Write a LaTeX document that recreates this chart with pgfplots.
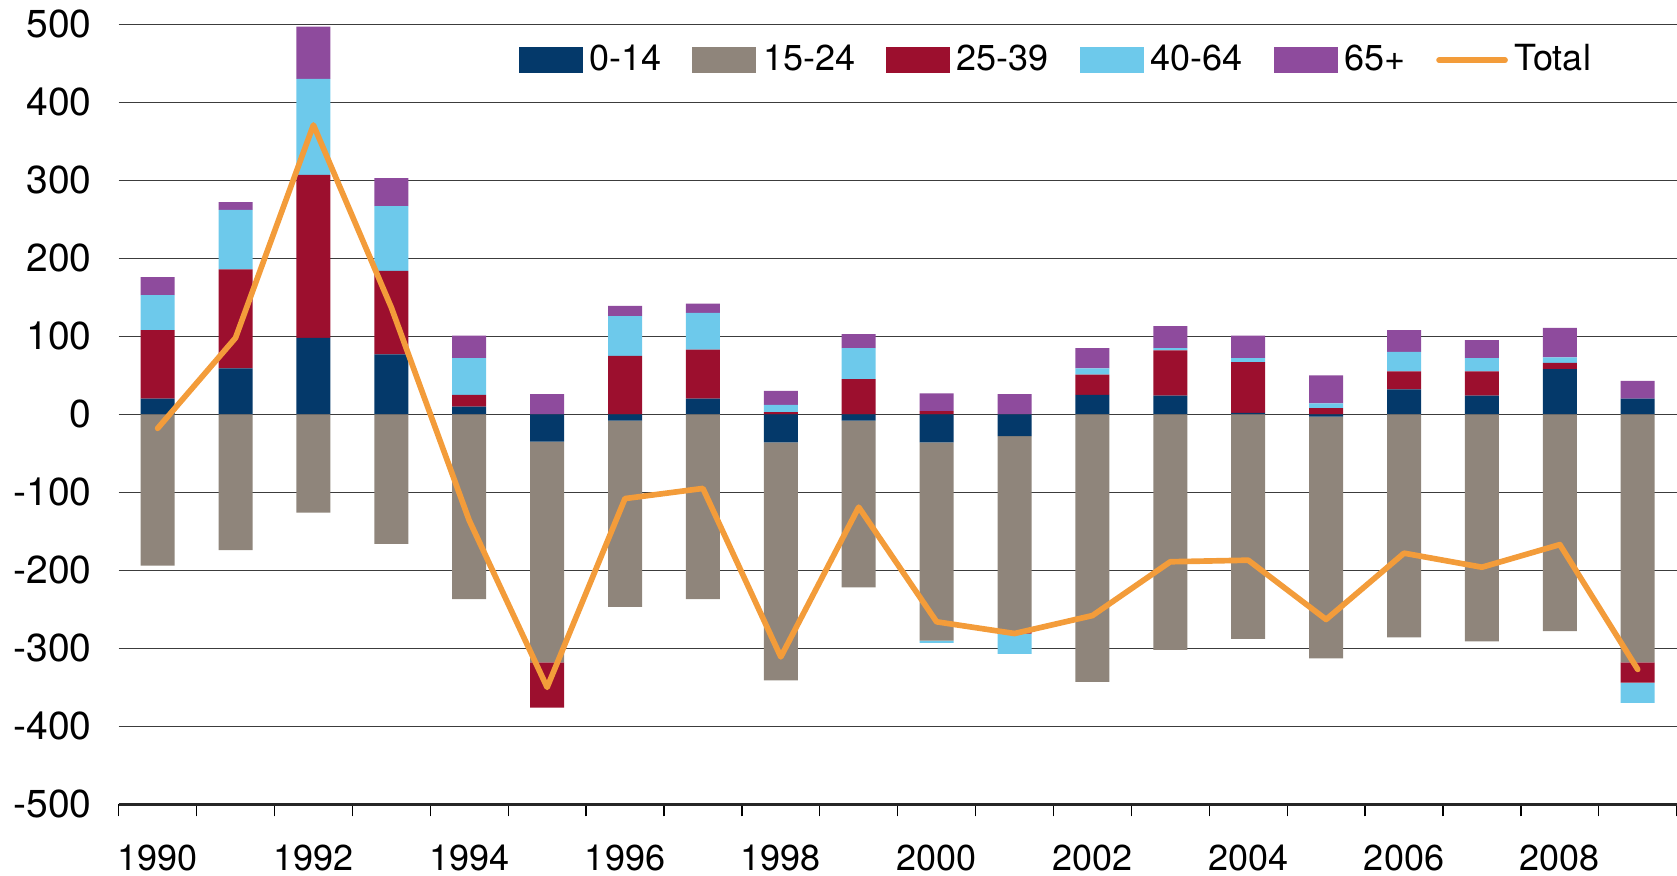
\documentclass[border=0pt]{standalone}
\usepackage{fontspec}
\setmainfont{TeX Gyre Heros}
\usepackage{pgfplots}
\pgfplotsset{compat=1.18}
\usepackage{pgfplotstable}

\definecolor{cA}{HTML}{04396A}   % 0-14
\definecolor{cB}{HTML}{8F857B}   % 15-24
\definecolor{cC}{HTML}{9C0F2E}   % 25-39
\definecolor{cD}{HTML}{6DC9EB}   % 40-64
\definecolor{cE}{HTML}{8E4B9D}   % 65+
\definecolor{cT}{HTML}{F39C3A}   % Total
\definecolor{gridc}{HTML}{3C3C3C}

% Positive contributions by age group (year index 0 = 1990)
\pgfplotstableread{
x  a   b  c    d    e
0  20  0  88   45   23
1  59  0  127  76   10
2  98  0  209  123  67
3  77  0  107  83   36
4  10  0  15   47   29
5  0   0  0    0    26
6  0   0  75   51   13
7  20  0  63   47   12
8  0   0  3    9    18
9  0   0  45   40   18
10 0   0  4    0    23
11 0   0  0    0    26
12 25  0  26   8    26
13 24  0  58   3    28
14 2   0  65   5    29
15 0   0  8    6    36
16 32  0  23   25   28
17 24  0  31   17   23
18 58  0  8    7    38
19 20  0  0    0    23
}\pos

% Negative contributions by age group
\pgfplotstableread{
x  a    b     c    d
0  0    -194  0    0
1  0    -174  0    0
2  0    -126  0    0
3  0    -166  0    0
4  0    -237  0    0
5  -35  -283  -58  0
6  -8   -239  0    0
7  0    -237  0    0
8  -36  -305  0    0
9  -8   -214  0    0
10 -36  -254  0    -3
11 -28  -251  -2   -26
12 0    -343  0    0
13 0    -302  0    0
14 0    -288  0    0
15 -3   -310  0    0
16 0    -286  0    0
17 0    -291  0    0
18 0    -278  0    0
19 0    -318  -26  -26
}\neg

% Net total
\pgfplotstableread{
x  t
0  -18
1  98
2  371
3  137
4  -136
5  -350
6  -108
7  -95
8  -311
9  -119
10 -266
11 -281
12 -258
13 -189
14 -187
15 -263
16 -178
17 -196
18 -167
19 -327
}\tot

\pgfplotsset{
  boxlegend/.style={legend image code/.code={\fill[##1] (0pt,-3.9pt) rectangle (19.2pt,3.9pt);}},
  linelegend/.style={legend image code/.code={\draw[##1] (0pt,0pt) -- (19.8pt,0pt);}},
  frame/.style={
    at={(35.6pt,21.2pt)}, anchor=south west,
    scale only axis, width=467.4pt, height=234pt,
    xmin=-0.5, xmax=19.5, ymin=-500, ymax=500,
  },
}

\newcommand\lblfont{\fontsize{10.8}{13}\selectfont}
\newcommand\yfont{\fontsize{11.7}{13}\selectfont}

\begin{document}
\begin{tikzpicture}
% positive parts, grid, ticks and legend
\begin{axis}[
  frame, ybar stacked, bar width=10.2pt,
  axis x line*=bottom, axis y line*=left,
  y axis line style={draw=none},
  x axis line style={line width=0.8pt, black!85},
  ytick={-500,-400,...,500},
  ytick style={draw=none},
  ymajorgrids, grid style={gridc, line width=0.4pt},
  xtick={0,2,...,18},
  xticklabels={1990,1992,1994,1996,1998,2000,2002,2004,2006,2008},
  minor xtick={-0.5,0.5,...,19.5},
  major x tick style={draw=none},
  minor x tick style={black, line width=0.4pt},
  minor tick length=3.6pt,
  tick align=outside,
  xticklabel style={font=\lblfont, yshift=-4.4pt},
  yticklabel style={font=\yfont, xshift=-0.3pt},
  /pgf/number format/assume math mode=true,
  legend style={at={(0.2563,0.954)}, anchor=west, draw=none, fill=none,
    inner sep=0pt, font=\lblfont, legend columns=-1,
    /tikz/every even column/.append style={column sep=7.3pt}},
]
\addplot[fill=cA, draw=none, boxlegend] table[x=x,y=a]{\pos};
\addlegendentry{0-14}
\addplot[fill=cB, draw=none, boxlegend] table[x=x,y=b]{\pos};
\addlegendentry{15-24}
\addplot[fill=cC, draw=none, boxlegend] table[x=x,y=c]{\pos};
\addlegendentry{25-39}
\addplot[fill=cD, draw=none, boxlegend] table[x=x,y=d]{\pos};
\addlegendentry{40-64}
\addplot[fill=cE, draw=none, boxlegend] table[x=x,y=e]{\pos};
\addlegendentry{65+}
\addlegendimage{linelegend, cT, line width=1.7pt, line cap=round}
\addlegendentry{Total}
\end{axis}
% negative parts
\begin{axis}[frame, ybar stacked, bar width=10.2pt, hide axis]
\addplot[fill=cA, draw=none] table[x=x,y=a]{\neg};
\addplot[fill=cB, draw=none] table[x=x,y=b]{\neg};
\addplot[fill=cC, draw=none] table[x=x,y=c]{\neg};
\addplot[fill=cD, draw=none] table[x=x,y=d]{\neg};
\end{axis}
% net total line on top
\begin{axis}[frame, hide axis]
\addplot[cT, line width=1.7pt, line join=round, line cap=round,
  no markers] table[x=x,y=t]{\tot};
\end{axis}
\pgfresetboundingbox
\useasboundingbox (0,0) rectangle (503.1pt,262.5pt);
\end{tikzpicture}
\end{document}
